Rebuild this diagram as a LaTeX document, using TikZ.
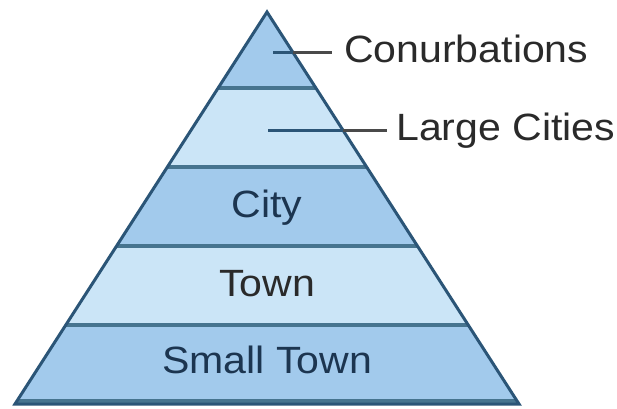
\documentclass[tikz,border=0pt]{standalone}
\usepackage{fontspec}
\setmainfont{Liberation Sans}
\usetikzlibrary{calc}
\definecolor{banddark}{HTML}{A2CAEC}
\definecolor{bandlight}{HTML}{CBE5F7}
\definecolor{edgeblue}{HTML}{2B5577}
\definecolor{sepblue}{HTML}{46748F}
\definecolor{leadgray}{HTML}{4A4A4A}
\definecolor{navytext}{HTML}{1C3550}
\definecolor{labeltext}{HTML}{2A2A2A}
\tikzset{
  lbl/.style={font=\fontsize{38}{40}\selectfont, inner sep=0pt, xscale=1.08},
  sep/.style={draw=sepblue, line width=3.2pt},
  outline/.style={draw=edgeblue, line width=3pt, line join=miter},
  leadin/.style={draw=edgeblue, line width=3pt},
  leadout/.style={draw=leadgray, line width=3pt}
}
\begin{document}
\begin{tikzpicture}[x=1pt,y=-1pt]
\useasboundingbox (0,0) rectangle (617,408);
\fill[white] (0,0) rectangle (617,408);
\coordinate (apex) at (267,12);
\coordinate (bl) at (15,404);
\coordinate (br) at (519,404);
% band boundary points
\foreach \n/\t in {a/0.1939,b/0.3954,c/0.5969,d/0.7985}{
  \coordinate (L\n) at ($(apex)!\t!(bl)$);
  \coordinate (R\n) at ($(apex)!\t!(br)$);
}
% bands
\fill[banddark] (apex) -- (Ra) -- (La) -- cycle;
\fill[bandlight] (La) -- (Ra) -- (Rb) -- (Lb) -- cycle;
\fill[banddark] (Lb) -- (Rb) -- (Rc) -- (Lc) -- cycle;
\fill[bandlight] (Lc) -- (Rc) -- (Rd) -- (Ld) -- cycle;
\fill[banddark] (Ld) -- (Rd) -- (br) -- (bl) -- cycle;
% separators
\draw[sep] (La) -- (Ra);
\draw[sep] (Lb) -- (Rb);
\draw[sep] (Lc) -- (Rc);
\draw[sep] (Ld) -- (Rd);
\draw[sep] ($(bl)+(3,-3)$) -- ($(br)+(-3,-3)$);
% outline
\draw[outline] (bl) -- (apex) -- (br) -- cycle;
% labels
\node[lbl, anchor=base west, text=labeltext] (conurb) at (344,62) {Conurbations};
\node[lbl, anchor=base west, text=labeltext] (large) at (396,140) {Large Cities};
\node[lbl, anchor=base, text=navytext] (city) at (267,217) {City};
\node[lbl, anchor=base, text=labeltext] (town) at (267,296) {Town};
\node[lbl, anchor=base, text=navytext] (small) at (267,373) {Small Town};
% leader lines
\coordinate (c1) at (273,52);
\coordinate (c2) at (293,52);
\coordinate (c3) at (332,52);
\coordinate (g1) at (268,130);
\coordinate (g2) at (343,130);
\coordinate (g3) at (387,130);
\draw[leadin] (c1) -- (c2);
\draw[leadout] (c2) -- (c3);
\draw[leadin] (g1) -- (g2);
\draw[leadout] (g2) -- (g3);
\end{tikzpicture}
\end{document}
